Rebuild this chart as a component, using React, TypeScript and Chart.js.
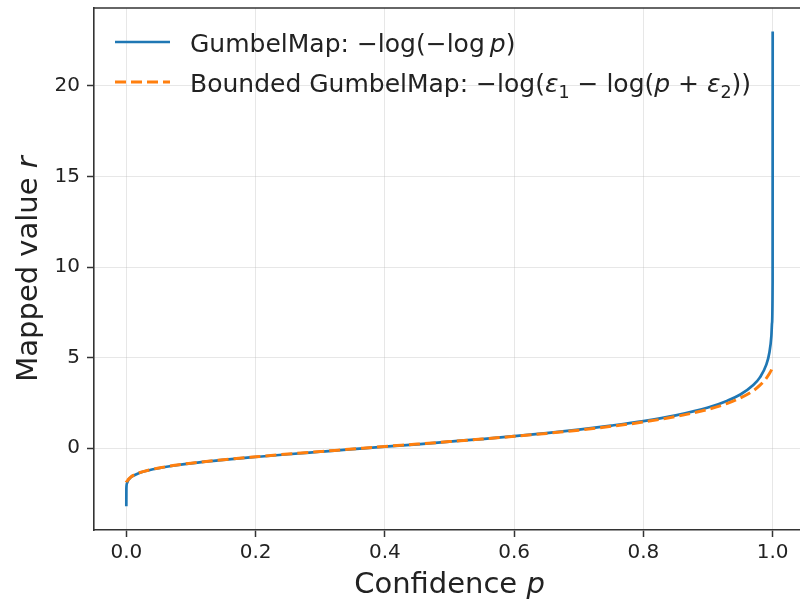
import React, { useEffect, useRef } from "react";
import { Chart, registerables } from "chart.js";
Chart.register(...registerables);

// Confidence values p (x)
const pValues = [
  0, 0.0001, 0.001, 0.003, 0.006, 0.01, 0.02, 0.035, 0.05, 0.075, 0.1, 0.15, 0.2, 0.25, 0.3,
  0.35, 0.4, 0.45, 0.5, 0.55, 0.6, 0.65, 0.7, 0.75, 0.8, 0.85, 0.9, 0.93, 0.95, 0.97, 0.98,
  0.99, 0.995, 0.998, 0.999, 0.9999, 1.0,
];
// GumbelMap values
const gumbelValues = [
  -3.2, -2.22, -1.93, -1.76, -1.63, -1.53, -1.36, -1.21, -1.1, -0.95, -0.83, -0.64, -0.48, -0.33,
  -0.19, -0.05, 0.09, 0.22, 0.37, 0.51, 0.67, 0.84, 1.03, 1.25, 1.5, 1.82, 2.25, 2.63, 2.97, 3.49,
  3.9, 4.6, 5.3, 6.21, 6.91, 9.21, 23.0,
];
// Bounded GumbelMap values
const boundedValues = [
  -1.88, -1.86, -1.83, -1.72, -1.62, -1.51, -1.35, -1.2, -1.09, -0.94, -0.82, -0.63, -0.47, -0.32,
  -0.18, -0.04, 0.1, 0.23, 0.37, 0.51, 0.66, 0.82, 1.0, 1.21, 1.45, 1.75, 2.15, 2.48, 2.78, 3.18,
  3.47, 3.86, 4.13, 4.32, 4.42, 4.5, 4.52,
];
const xTicks = [0, 0.2, 0.4, 0.6, 0.8, 1.0];
const yTicks = [0, 5, 10, 15, 20];
const xRange = [-0.05, 1.05];
const yRange = [-4.51, 24.3];

const seriesNames = ["GumbelMap: −log(−log p)", "Bounded GumbelMap: −log(ε1 − log(p + ε2))"];

type Run = { t: string; it?: boolean; sub?: boolean };
const legendRuns: Run[][] = [
  [{ t: "GumbelMap: −log(−log" }, { t: "\u2009" }, { t: "p", it: true }, { t: ")" }],
  [
    { t: "Bounded GumbelMap: −log(" },
    { t: "ε", it: true },
    { t: "1", sub: true },
    { t: " − log(" },
    { t: "p", it: true },
    { t: " + " },
    { t: "ε", it: true },
    { t: "2", sub: true },
    { t: "))" },
  ],
];
const xTitleRuns: Run[] = [{ t: "Confidence " }, { t: "p", it: true }];
const yTitleRuns: Run[] = [{ t: "Mapped value " }, { t: "r", it: true }];

const FONT = '"DejaVu Sans", sans-serif';
const BLUE = "#1f77b4";
const ORANGE = "#ff7f0e";
const SPINE = "#333333";
const GRID = "rgba(176,176,176,0.3)";
const TEXT = "#222222";

function drawRuns(ctx: CanvasRenderingContext2D, runs: Run[], x: number, y: number, size: number, align: "left" | "center") {
  const parts = runs.map((r) => {
    const s = r.sub ? size * 0.7 : size;
    const font = `${r.it ? "italic " : ""}${s}px ${FONT}`;
    ctx.font = font;
    return { r, font, w: ctx.measureText(r.t).width, dy: r.sub ? size * 0.22 : 0 };
  });
  const total = parts.reduce((a, p) => a + p.w, 0);
  let cx = align === "center" ? x - total / 2 : x;
  ctx.textAlign = "left";
  ctx.textBaseline = "alphabetic";
  for (const p of parts) {
    ctx.font = p.font;
    ctx.fillText(p.r.t, cx, y + p.dy);
    cx += p.w;
  }
}

const overlay = {
  id: "overlay",
  afterDraw(chart: any) {
    const ctx: CanvasRenderingContext2D = chart.ctx;
    const a = chart.chartArea;
    ctx.save();
    // top spine
    ctx.strokeStyle = SPINE;
    ctx.lineWidth = 1.6;
    ctx.beginPath();
    ctx.moveTo(a.left - 0.8, a.top);
    ctx.lineTo(a.right + 2, a.top);
    ctx.stroke();

    // legend
    chart.data.datasets.forEach((ds: any, i: number) => {
      const ly = a.top + 34 + i * 40;
      ctx.save();
      ctx.strokeStyle = ds.borderColor;
      ctx.lineWidth = ds.borderWidth;
      ctx.setLineDash(ds.borderDash || []);
      ctx.lineCap = "butt";
      ctx.beginPath();
      ctx.moveTo(a.left + 21, ly);
      ctx.lineTo(a.left + 76, ly);
      ctx.stroke();
      ctx.restore();
      ctx.fillStyle = TEXT;
      drawRuns(ctx, legendRuns[i], a.left + 96, ly + 10, 25, "left");
    });

    // axis titles
    ctx.fillStyle = TEXT;
    drawRuns(ctx, xTitleRuns, (a.left + a.right) / 2, 593, 29, "center");
    ctx.save();
    ctx.translate(37, (a.top + a.bottom) / 2);
    ctx.rotate(-Math.PI / 2);
    drawRuns(ctx, yTitleRuns, 0, 0, 29, "center");
    ctx.restore();
    ctx.restore();
  },
};

export default function App() {
  const ref = useRef<HTMLCanvasElement | null>(null);
  useEffect(() => {
    if (!ref.current) return;
    const chart = new Chart(ref.current, {
      type: "line",
      data: {
        datasets: [
          {
            label: seriesNames[0],
            data: pValues.map((p, i) => ({ x: p, y: gumbelValues[i] })),
            borderColor: BLUE,
            borderWidth: 2.7,
            pointRadius: 0,
            cubicInterpolationMode: "monotone",
            fill: false,
            order: 1,
          },
          {
            label: seriesNames[1],
            data: pValues.map((p, i) => ({ x: p, y: boundedValues[i] })),
            borderColor: ORANGE,
            borderWidth: 3,
            borderDash: [11, 5],
            pointRadius: 0,
            cubicInterpolationMode: "monotone",
            fill: false,
            order: 0,
          },
        ],
      },
      options: {
        responsive: false,
        animation: false,
        devicePixelRatio: 1,
        layout: { padding: { left: 0, right: 7, top: 8, bottom: 0 } },
        plugins: { legend: { display: false }, tooltip: { enabled: false } },
        scales: {
          x: {
            type: "linear",
            min: xRange[0],
            max: xRange[1],
            afterBuildTicks: (s: any) => {
              s.ticks = xTicks.map((v) => ({ value: v }));
            },
            afterFit: (s: any) => {
              s.height = 69;
              s.paddingLeft = 0;
              s.paddingRight = 0;
            },
            grid: { color: GRID, lineWidth: 1, tickColor: SPINE, tickLength: 7, tickWidth: 1.5 },
            border: { color: SPINE, width: 1.6 },
            ticks: {
              color: TEXT,
              font: { family: FONT, size: 20 },
              padding: 4,
              maxRotation: 0,
              autoSkip: false,
              callback: (v: any) => Number(v).toFixed(1),
            },
          },
          y: {
            type: "linear",
            min: yRange[0],
            max: yRange[1],
            afterBuildTicks: (s: any) => {
              s.ticks = yTicks.map((v) => ({ value: v }));
            },
            afterFit: (s: any) => {
              s.width = 94;
              s.paddingTop = 0;
              s.paddingBottom = 0;
            },
            grid: { color: GRID, lineWidth: 1, tickColor: SPINE, tickLength: 7, tickWidth: 1.5 },
            border: { color: SPINE, width: 1.6 },
            ticks: {
              color: TEXT,
              font: { family: FONT, size: 20 },
              padding: 7,
              autoSkip: false,
              callback: (v: any) => String(v),
            },
          },
        },
      },
      plugins: [overlay],
    });
    return () => chart.destroy();
  }, []);
  return (
    <div style={{ position: "absolute", left: 0, top: 0, width: 800, height: 599, overflow: "hidden", background: "#fff" }}>
      <canvas ref={ref} width={812} height={599} style={{ display: "block" }} />
    </div>
  );
}
